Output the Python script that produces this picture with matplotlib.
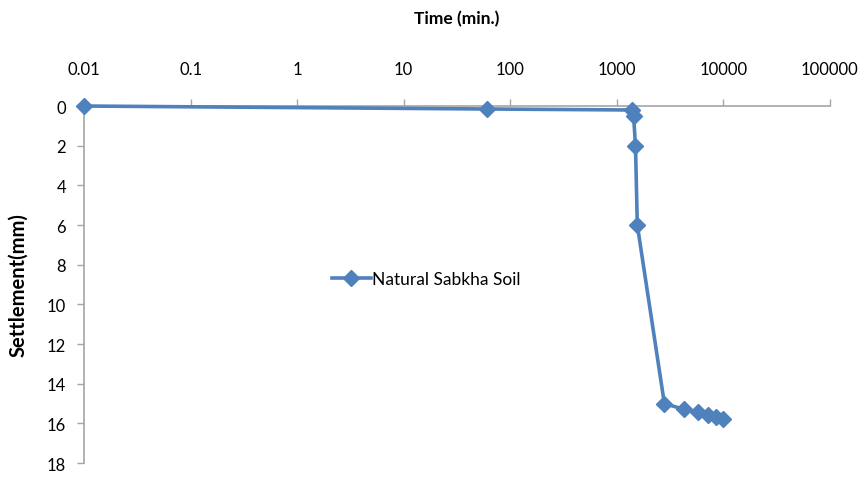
import matplotlib
matplotlib.use("Agg")
import matplotlib.pyplot as plt
from matplotlib.ticker import FixedLocator, NullLocator

time_min = [0.01, 60, 1380, 1440, 1500, 1560, 2800, 4300, 5800, 7200, 8600, 10000]
settlement = [0.0, 0.15, 0.2, 0.5, 2.0, 6.0, 15.0, 15.3, 15.45, 15.6, 15.7, 15.8]
series_name = "Natural Sabkha Soil"
xticks = [0.01, 0.1, 1, 10, 100, 1000, 10000, 100000]
xtick_labels = ["0.01", "0.1", "1", "10", "100", "1000", "10000", "100000"]
yticks = list(range(0, 19, 2))

plt.rcParams['font.family'] = ['Lato', 'DejaVu Sans']

fig = plt.figure(figsize=(8.68, 4.81), dpi=100)
ax = fig.add_axes([0.0968, 0.0353, 0.8592, 0.7422])

color = "#4F81BD"
ax.plot(time_min, settlement, color=color, lw=2.6, marker="D", markersize=8,
        label=series_name, clip_on=False, zorder=5)

ax.set_xscale("log")
ax.set_xlim(0.01, 100000)
ax.set_ylim(18, 0)
ax.xaxis.set_major_locator(FixedLocator(xticks))
ax.xaxis.set_minor_locator(NullLocator())
ax.set_xticklabels(xtick_labels)
ax.set_yticks(yticks)
ax.xaxis.tick_top()
ax.xaxis.set_label_position("top")

for s in ["right", "bottom"]:
    ax.spines[s].set_visible(False)
for s in ["top", "left"]:
    ax.spines[s].set_color("#A6A6A6")
    ax.spines[s].set_linewidth(1.2)
ax.tick_params(axis="both", colors="#A6A6A6", length=5, width=1.0, labelcolor="black", labelsize=12)
ax.tick_params(axis="x", pad=16)
ax.tick_params(axis="y", pad=8)

ax.set_xlabel("Time (min.)", fontsize=12.5, fontweight="bold", labelpad=27)
ax.set_ylabel("Settlement(mm)", fontsize=14.5, fontweight="bold", labelpad=13)

leg = ax.legend(loc="center left", bbox_to_anchor=(0.312, 0.515), frameon=False,
                fontsize=12.5, handlelength=2.2, handletextpad=0.1)

fig.savefig("out.png", dpi=100)
